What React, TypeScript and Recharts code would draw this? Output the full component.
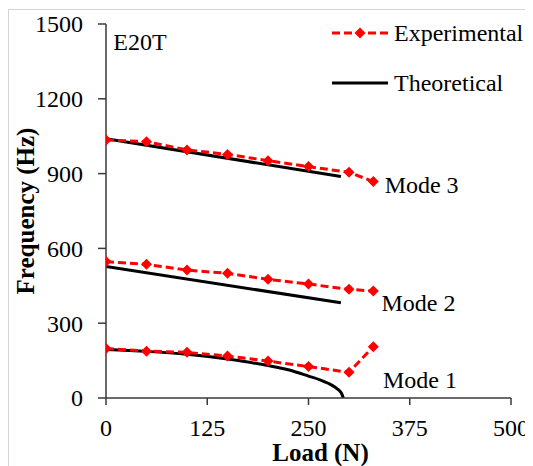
import { LineChart, Line, XAxis, YAxis, Legend, ReferenceDot, Label } from 'recharts'

// measured loads (N) for the experimental runs
const expLoads = [0, 50, 100, 150, 200, 250, 300, 330]
const expMode1 = [199, 188, 183, 168, 148, 126, 103, 206]
const expMode2 = [547, 536, 513, 500, 476, 457, 436, 429]
const expMode3 = [1035, 1028, 995, 977, 952, 928, 905, 868]

// theoretical curves
const theoLoadsLin = [0, 290]
const theoMode2 = [527, 382]
const theoMode3 = [1040, 888]
const theoLoads1 = [0, 50, 100, 150, 200, 225, 250, 265, 275, 283, 288, 291, 293]
const theoMode1 = [195, 187, 175, 156, 130, 113, 88, 72, 58, 43, 30, 17, 0]

const xTicks = [0, 125, 250, 375, 500]
const yTicks = [0, 300, 600, 900, 1200, 1500]

const toRows = (xs: number[], ys: number[]) => xs.map((x, i) => ({ load: x, f: ys[i] }))

const FONT = '"Liberation Serif", "Times New Roman", serif'
const RED = '#ff0000'

const Diamond = (props: any) => {
  const { cx, cy } = props
  if (cx == null || cy == null) return null
  const s = 5.5
  return <polygon points={`${cx},${cy - s} ${cx + s},${cy} ${cx},${cy + s} ${cx - s},${cy}`} fill={RED} />
}

const XTick = ({ x, y, payload }: any) => (
  <text x={x} y={y} dy="0.71em" textAnchor="middle" fontSize={24} fontFamily={FONT} fill="#000">{payload.value}</text>
)
const YTick = ({ x, y, payload }: any) => (
  <text x={x} y={y} dy="0.35em" textAnchor="end" fontSize={24} fontFamily={FONT} fill="#000">{payload.value}</text>
)

// plain text placed to the right of a reference point
const noteAt = (text: string, size: number) => ({
  content: ({ viewBox }: any) => (
    <text x={viewBox.x} y={viewBox.y} dy="0.35em" fontSize={size} fontFamily={FONT} fill="#000">{text}</text>
  ),
})

const LegendBox = () => (
  <div style={{ position: 'relative', width: 200, height: 100, fontFamily: FONT, fontSize: 24 }}>
    <svg width={60} height={100} style={{ position: 'absolute', left: 0, top: 0 }}>
      <line x1={0} y1={23} x2={56} y2={23} stroke={RED} strokeWidth={3} strokeDasharray="8 4" />
      <polygon points="28,17.5 33.5,23 28,28.5 22.5,23" fill={RED} />
      <line x1={0} y1={73} x2={56} y2={73} stroke="#000" strokeWidth={3} />
    </svg>
    <div style={{ position: 'absolute', left: 62, top: 23, transform: 'translateY(-50%)', lineHeight: 1, whiteSpace: 'nowrap' }}>Experimental</div>
    <div style={{ position: 'absolute', left: 62, top: 73, transform: 'translateY(-50%)', lineHeight: 1, whiteSpace: 'nowrap' }}>Theoretical</div>
  </div>
)

export default function App() {
  const axisStroke = { stroke: '#3a3a3a', strokeWidth: 1.5 }
  return (
    <div style={{ position: 'relative', top: 1, width: 560, height: 480, borderLeft: '1px solid #d4d4d4', borderTop: '1px solid #d4d4d4', fontFamily: FONT }}>
      <LineChart width={530} height={460} margin={{ top: 14, right: 28, bottom: 12, left: 0 }}>
        <XAxis
          type="number"
          dataKey="load"
          domain={[0, 500]}
          ticks={xTicks}
          height={60}
          tickSize={7}
          tickMargin={14}
          axisLine={axisStroke}
          tickLine={axisStroke}
          tick={<XTick />}
          allowDataOverflow
        >
          <Label
            content={({ viewBox }: any) => (
              <text x={viewBox.x + viewBox.width / 2 + 12} y={viewBox.y + 63} textAnchor="middle" fontSize={25} fontWeight="bold" fontFamily={FONT} fill="#000">
                Load (N)
              </text>
            )}
          />
        </XAxis>
        <YAxis
          type="number"
          domain={[0, 1500]}
          ticks={yTicks}
          width={97}
          tickSize={8}
          tickMargin={15}
          axisLine={axisStroke}
          tickLine={axisStroke}
          tick={<YTick />}
          allowDataOverflow
        >
          <Label
            content={({ viewBox }: any) => {
              const x = viewBox.x + 25
              const y = viewBox.y + viewBox.height / 2
              return (
                <text x={x} y={y} transform={`rotate(-90 ${x} ${y})`} textAnchor="middle" fontSize={25} fontWeight="bold" fontFamily={FONT} fill="#000">
                  Frequency  (Hz)
                </text>
              )
            }}
          />
        </YAxis>
        <Legend
          layout="vertical"
          align="center"
          verticalAlign="middle"
          wrapperStyle={{ left: 323, top: 0, width: 200, height: 100 }}
          content={() => <LegendBox />}
        />

        <Line data={toRows(theoLoadsLin, theoMode3)} dataKey="f" stroke="#000" strokeWidth={3} dot={false} isAnimationActive={false} />
        <Line data={toRows(theoLoadsLin, theoMode2)} dataKey="f" stroke="#000" strokeWidth={3} dot={false} isAnimationActive={false} />
        <Line data={toRows(theoLoads1, theoMode1)} dataKey="f" type="monotone" stroke="#000" strokeWidth={3} dot={false} isAnimationActive={false} />

        <Line data={toRows(expLoads, expMode3)} dataKey="f" stroke={RED} strokeWidth={3} strokeDasharray="8 4" dot={<Diamond />} isAnimationActive={false} />
        <Line data={toRows(expLoads, expMode2)} dataKey="f" stroke={RED} strokeWidth={3} strokeDasharray="8 4" dot={<Diamond />} isAnimationActive={false} />
        <Line data={toRows(expLoads, expMode1)} dataKey="f" stroke={RED} strokeWidth={3} strokeDasharray="8 4" dot={<Diamond />} isAnimationActive={false} />

        <ReferenceDot x={9} y={1430} r={0} fill="none" stroke="none" label={noteAt('E20T', 24)} />
        <ReferenceDot x={344} y={854} r={0} fill="none" stroke="none" label={noteAt('Mode 3', 24)} />
        <ReferenceDot x={340} y={381} r={0} fill="none" stroke="none" label={noteAt('Mode 2', 24)} />
        <ReferenceDot x={342} y={72} r={0} fill="none" stroke="none" label={noteAt('Mode 1', 24)} />
      </LineChart>
    </div>
  )
}
